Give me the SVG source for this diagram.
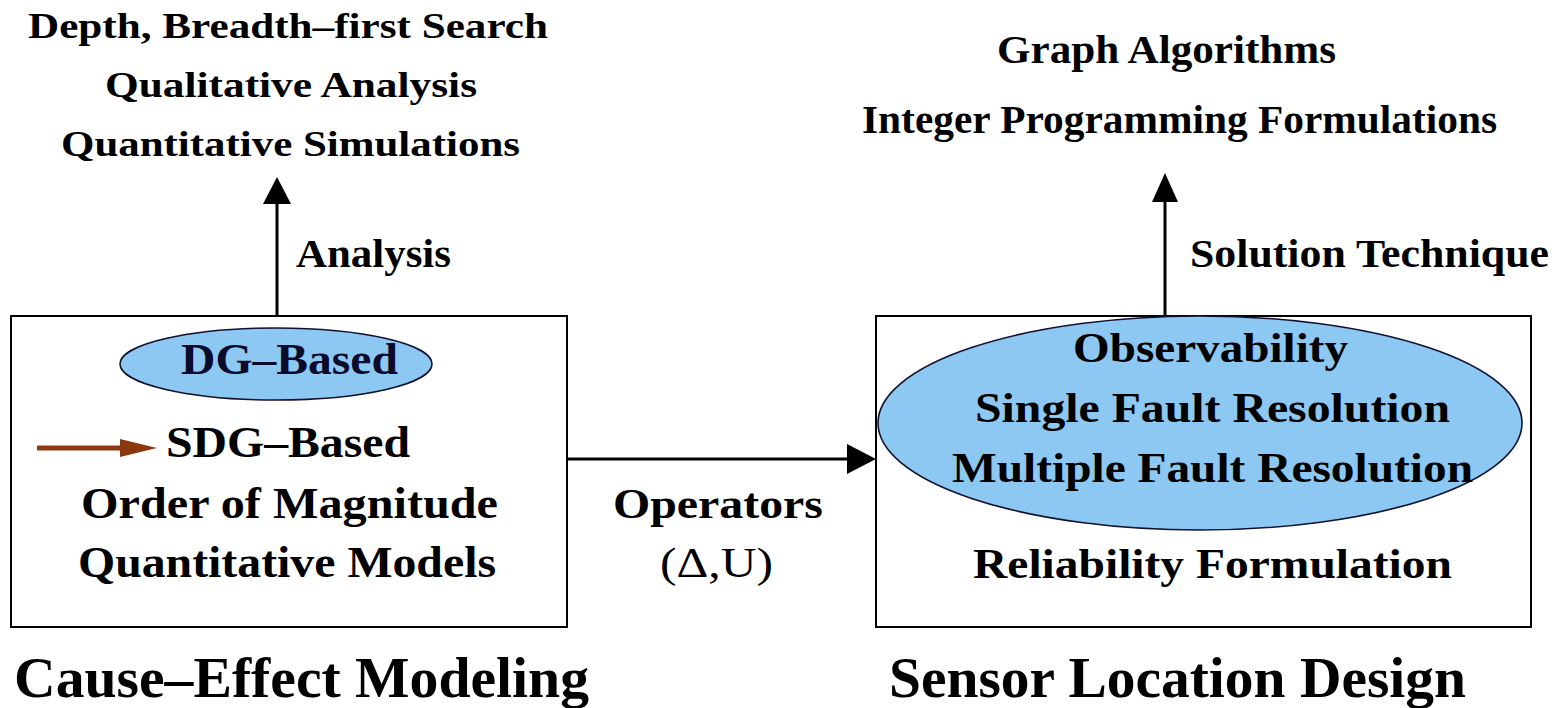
<svg xmlns="http://www.w3.org/2000/svg" width="1561" height="708" viewBox="0 0 1561 708">
<style>
text{font-family:"Liberation Serif","Times New Roman",serif;font-weight:bold;fill:#000;}
.s36{font-size:36px;}
.s40{font-size:40px;}
.s44{font-size:44px;}
.s42{font-size:42px;}
.s56{font-size:56px;}
.reg{font-weight:normal;}
.box{fill:#fff;stroke:#000;stroke-width:2;}
.ell{fill:#8cc8f2;stroke:#101030;stroke-width:1.6;}
.line{stroke:#000;stroke-width:3;fill:none;}
.navy{fill:#0a0a2a;}
</style>
<rect width="1561" height="708" fill="#fff"/>
<g id="cause-effect-box">
<rect class="box" x="11" y="316" width="556" height="311"/>
<ellipse class="ell" cx="276" cy="364" rx="156" ry="36"/>
<text class="s44 navy" x="289.5" y="374" text-anchor="middle" textLength="217" lengthAdjust="spacingAndGlyphs">DG–Based</text>
<line x1="37" y1="448" x2="124" y2="448" stroke="#8b3a10" stroke-width="5"/>
<polygon points="120,439 157,448 120,457" fill="#8b3a10"/>
<text class="s44" x="288" y="457" text-anchor="middle" textLength="244" lengthAdjust="spacingAndGlyphs">SDG–Based</text>
<text class="s44" x="289.5" y="518" text-anchor="middle" textLength="417" lengthAdjust="spacingAndGlyphs">Order of Magnitude</text>
<text class="s44" x="287" y="577" text-anchor="middle" textLength="418" lengthAdjust="spacingAndGlyphs">Quantitative Models</text>
</g>
<g id="sensor-box">
<rect class="box" x="876" y="316" width="655" height="311"/>
<ellipse class="ell" cx="1200" cy="423" rx="322" ry="107"/>
<text class="s42" x="1210.5" y="362" text-anchor="middle" textLength="275" lengthAdjust="spacingAndGlyphs">Observability</text>
<text class="s42" x="1212.5" y="422" text-anchor="middle" textLength="475" lengthAdjust="spacingAndGlyphs">Single Fault Resolution</text>
<text class="s42" x="1212.5" y="482" text-anchor="middle" textLength="521" lengthAdjust="spacingAndGlyphs">Multiple Fault Resolution</text>
<text class="s42" x="1212.5" y="578" text-anchor="middle" textLength="479" lengthAdjust="spacingAndGlyphs">Reliability Formulation</text>
</g>
<g id="analysis-results">
<text class="s36" x="288" y="38" text-anchor="middle" textLength="520" lengthAdjust="spacingAndGlyphs">Depth, Breadth–first Search</text>
<text class="s36" x="291" y="97" text-anchor="middle" textLength="372" lengthAdjust="spacingAndGlyphs">Qualitative Analysis</text>
<text class="s36" x="290.5" y="156" text-anchor="middle" textLength="459" lengthAdjust="spacingAndGlyphs">Quantitative Simulations</text>
</g>
<g id="solution-results">
<text class="s40" x="1166.5" y="63" text-anchor="middle" textLength="339" lengthAdjust="spacingAndGlyphs">Graph Algorithms</text>
<text class="s40" x="1179.5" y="133" text-anchor="middle" textLength="635" lengthAdjust="spacingAndGlyphs">Integer Programming Formulations</text>
</g>
<g id="connectors">
<line class="line" x1="277" y1="316" x2="277" y2="200"/>
<polygon points="277,177 263,204 291,204" fill="#000"/>
<text class="s40" x="296" y="267" textLength="155" lengthAdjust="spacingAndGlyphs">Analysis</text>
<line class="line" x1="1165" y1="316" x2="1165" y2="198"/>
<polygon points="1165,173 1152,202 1178,202" fill="#000"/>
<text class="s40" x="1190" y="267" textLength="359" lengthAdjust="spacingAndGlyphs">Solution Technique</text>
<line class="line" x1="567" y1="459" x2="850" y2="459"/>
<polygon points="876,459 847,444 847,474" fill="#000"/>
<text class="s42" x="718" y="518" text-anchor="middle" textLength="210" lengthAdjust="spacingAndGlyphs">Operators</text>
<text class="s42 reg" x="716.5" y="577" text-anchor="middle" textLength="113" lengthAdjust="spacingAndGlyphs">(Δ,U)</text>
</g>
<g id="titles">
<text class="s56" x="14" y="697" textLength="575" lengthAdjust="spacingAndGlyphs">Cause–Effect Modeling</text>
<text class="s56" x="889" y="697" textLength="577" lengthAdjust="spacingAndGlyphs">Sensor Location Design</text>
</g>
</svg>
